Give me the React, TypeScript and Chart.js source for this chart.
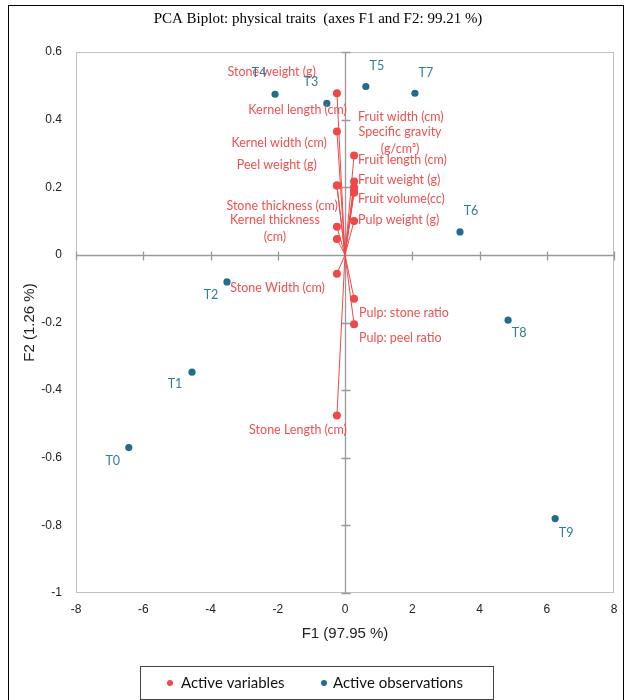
import React, { useEffect, useRef } from 'react';
import { Chart, registerables } from 'chart.js';

Chart.register(...registerables);

// ---------- data ----------
const chartTitle = 'PCA Biplot: physical traits  (axes F1 and F2: 99.21 %)';
const xAxisTitle = 'F1 (97.95 %)';
const yAxisTitle = 'F2 (1.26 %)';
const legendLabels = ['Active variables', 'Active observations'];

const obsNames = ['T0', 'T1', 'T2', 'T3', 'T4', 'T5', 'T6', 'T7', 'T8', 'T9'];
const obsF1 = [-6.43, -4.55, -3.51, -0.54, -2.08, 0.62, 3.42, 2.08, 4.85, 6.25];
const obsF2 = [-0.57, -0.347, -0.08, 0.448, 0.475, 0.498, 0.068, 0.478, -0.193, -0.78];

const varNames = [
  'Stone weight (g)',
  'Kernel length (cm)',
  'Kernel width (cm)',
  'Peel weight (g)',
  'Stone thickness (cm)',
  'Kernel thickness\n(cm)',
  'Stone Width (cm)',
  'Stone Length (cm)',
  'Fruit width (cm)',
  'Specific gravity\n(g/cm³)',
  'Fruit length (cm)',
  'Fruit weight (g)',
  'Fruit volume(cc)',
  'Pulp weight (g)',
  'Pulp: stone ratio',
  'Pulp: peel ratio',
];
const varF1 = [-0.24, -0.24, -0.24, -0.24, -0.24, -0.24, -0.24, -0.24, 0.27, 0.27, 0.27, 0.27, 0.27, 0.27, 0.27, 0.27];
const varF2 = [0.478, 0.365, 0.205, 0.205, 0.083, 0.047, -0.056, -0.475, 0.2, 0.217, 0.294, 0.19, 0.184, 0.1, -0.13, -0.205];

const xTicksMin = -8;
const xTicksMax = 8;
const xTickStep = 2;
const yTicksMin = -1;
const yTicksMax = 0.6;
const yTickStep = 0.2;

// ---------- label placement (pixel offsets from each mark) ----------
const obsLabelDx = [-16, -17, -16, -16, -16, 11, 11, 11, 11, 11];
const obsLabelDy = [13, 12, 13, -21, -21, -21, -21, -20, 13, 14];

const varLabelAlign: CanvasTextAlign[] = [
  'right', 'right', 'right', 'right', 'right', 'center', 'right', 'right',
  'left', 'center', 'left', 'left', 'left', 'left', 'left', 'left',
];
const varLabelDx = [-21, 10, -10, -20, 1, -62, -12, 10, 4, 46, 4, 4, 4, 4, 5, 5];
const varLabelDy = [-21, -21, -43, -21, -21, -19, 14, 14, -70, -50, 5, -11, 6, -1, 14, 14];

// ---------- styles ----------
const RED = '#F04848';
const RED_TEXT = '#F25050';
const BLUE = '#1F6E8F';
const BLUE_TEXT = '#2F7CA3';
const LABEL_FONT = '12.5px Lato';

const biplotPlugin = {
  id: 'biplot',
  beforeDatasetsDraw(chart: any) {
    const { ctx, chartArea: ca, scales } = chart;
    const xs = scales.x;
    const ys = scales.y;
    ctx.save();
    // plot frame
    ctx.strokeStyle = '#C0C0C0';
    ctx.lineWidth = 1;
    ctx.strokeRect(Math.round(ca.left) + 0.5, Math.round(ca.top) + 0.5,
      Math.round(ca.right - ca.left) - 1, Math.round(ca.bottom - ca.top) - 1);
    // zero lines
    const x0 = Math.round(xs.getPixelForValue(0)) + 0.5;
    const y0 = Math.round(ys.getPixelForValue(0)) + 0.5;
    ctx.strokeStyle = '#9A9A9A';
    ctx.lineWidth = 1.3;
    ctx.beginPath();
    ctx.moveTo(x0, ca.top);
    ctx.lineTo(x0, ca.bottom);
    ctx.moveTo(ca.left, y0);
    ctx.lineTo(ca.right, y0);
    // small ticks on zero lines
    ys.ticks.forEach((t: any) => {
      const py = Math.round(ys.getPixelForValue(t.value)) + 0.5;
      ctx.moveTo(x0 - 4, py);
      ctx.lineTo(x0 + 5, py);
    });
    xs.ticks.forEach((t: any) => {
      const px = Math.round(xs.getPixelForValue(t.value)) + 0.5;
      ctx.moveTo(px, y0 - 4);
      ctx.lineTo(px, y0 + 5);
    });
    ctx.stroke();
    ctx.restore();
  },
  afterDatasetsDraw(chart: any) {
    const { ctx, scales } = chart;
    const xs = scales.x;
    const ys = scales.y;
    ctx.save();
    ctx.font = LABEL_FONT;
    ctx.textBaseline = 'middle';
    // variable labels
    ctx.fillStyle = RED_TEXT;
    varNames.forEach((name, i) => {
      const px = xs.getPixelForValue(varF1[i]) + varLabelDx[i];
      const py = ys.getPixelForValue(varF2[i]) + varLabelDy[i];
      ctx.textAlign = varLabelAlign[i];
      name.split('\n').forEach((line, j) => ctx.fillText(line, px, py + j * 17));
    });
    // observation labels
    ctx.fillStyle = BLUE_TEXT;
    ctx.textAlign = 'center';
    obsNames.forEach((name, i) => {
      const px = xs.getPixelForValue(obsF1[i]) + obsLabelDx[i];
      const py = ys.getPixelForValue(obsF2[i]) + obsLabelDy[i];
      ctx.fillText(name, px, py);
    });
    ctx.restore();
  },
  afterDraw(chart: any) {
    const { ctx } = chart;
    ctx.save();
    // title
    ctx.fillStyle = '#000';
    ctx.font = '15px "Liberation Serif"';
    ctx.textAlign = 'center';
    ctx.textBaseline = 'middle';
    ctx.fillText(chartTitle, 309, 13);
    // legend box
    ctx.strokeStyle = '#444';
    ctx.lineWidth = 1;
    ctx.strokeRect(131.5, 660.5, 353, 33);
    ctx.font = '15px Lato';
    ctx.textAlign = 'left';
    ctx.fillStyle = RED;
    ctx.beginPath();
    ctx.arc(161, 677, 3, 0, Math.PI * 2);
    ctx.fill();
    ctx.fillStyle = BLUE;
    ctx.beginPath();
    ctx.arc(315, 677, 3, 0, Math.PI * 2);
    ctx.fill();
    ctx.fillStyle = '#111';
    ctx.fillText(legendLabels[0], 172, 677);
    ctx.fillText(legendLabels[1], 324, 677);
    ctx.restore();
  },
};

export default function App() {
  const canvasRef = useRef<HTMLCanvasElement | null>(null);

  useEffect(() => {
    const canvas = canvasRef.current;
    if (!canvas) return;

    const vectorSets = varNames.map((name, i) => ({
      label: name,
      data: [
        { x: 0, y: 0 },
        { x: varF1[i], y: varF2[i] },
      ],
      showLine: true,
      borderColor: RED,
      borderWidth: 1,
      backgroundColor: RED,
      pointBackgroundColor: RED,
      pointBorderWidth: 0,
      pointRadius: [0, 4],
      pointHoverRadius: [0, 4],
    }));

    const obsSet = {
      label: legendLabels[1],
      data: obsNames.map((_, i) => ({ x: obsF1[i], y: obsF2[i] })),
      showLine: false,
      backgroundColor: BLUE,
      pointBackgroundColor: BLUE,
      pointBorderWidth: 0,
      pointRadius: 3.6,
    };

    const chart = new Chart(canvas, {
      type: 'scatter',
      data: { datasets: [obsSet, ...vectorSets] as any },
      options: {
        animation: false,
        responsive: false,
        maintainAspectRatio: false,
        layout: { padding: { top: 46, right: 9, bottom: 52, left: 0 } },
        plugins: {
          legend: { display: false },
          tooltip: { enabled: false },
          title: { display: false },
        },
        scales: {
          x: {
            type: 'linear',
            min: xTicksMin,
            max: xTicksMax,
            afterFit: (s: any) => {
              s.height = 55;
              s.paddingLeft = 0;
              s.paddingRight = 0;
            },
            grid: { display: false },
            border: { display: false },
            ticks: {
              stepSize: xTickStep,
              padding: 1,
              maxRotation: 0,
              color: '#222',
              font: { family: 'Liberation Sans', size: 12 },
              callback: (v: any) => String(Math.round(Number(v))),
            },
            title: {
              display: true,
              text: xAxisTitle,
              color: '#222',
              font: { family: 'Liberation Sans', size: 15 },
              padding: 5,
            },
          },
          y: {
            type: 'linear',
            min: yTicksMin,
            max: yTicksMax,
            afterFit: (s: any) => { s.width = 67; },
            grid: { display: false },
            border: { display: false },
            ticks: {
              stepSize: yTickStep,
              padding: 6,
              color: '#222',
              font: { family: 'Liberation Sans', size: 12 },
              callback: (v: any) => String(Math.round(Number(v) * 10) / 10),
            },
            title: {
              display: true,
              text: yAxisTitle,
              color: '#222',
              font: { family: 'Liberation Sans', size: 15 },
              padding: 12,
            },
          },
        },
      },
      plugins: [biplotPlugin],
    });

    return () => chart.destroy();
  }, []);

  return (
    <div
      style={{
        position: 'absolute',
        left: 8,
        top: 5,
        width: 614,
        height: 694,
        border: '1px solid #000',
        background: '#fff',
      }}
    >
      <canvas ref={canvasRef} width={614} height={694} style={{ display: 'block', width: 614, height: 694 }} />
    </div>
  );
}
